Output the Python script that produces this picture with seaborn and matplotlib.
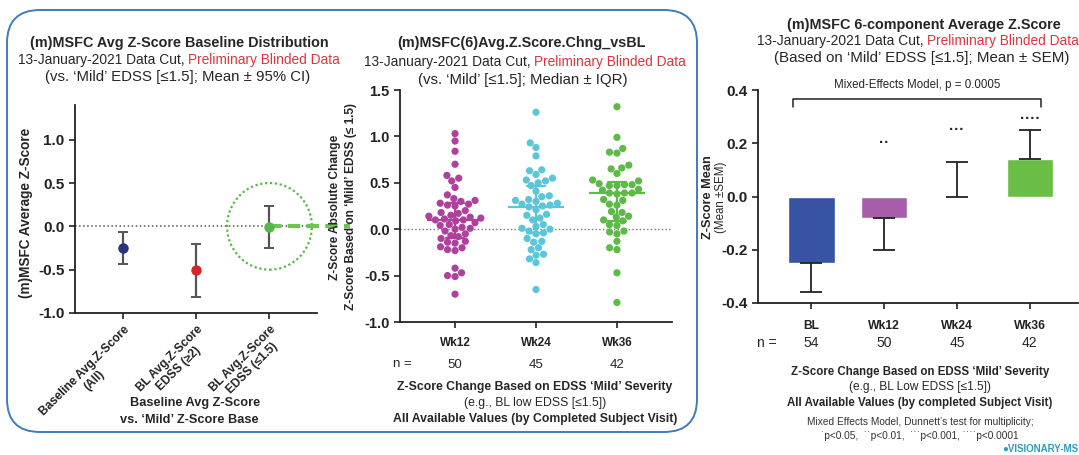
"""
(m)MSFC Z-score summary: baseline distribution, change vs BL, and mixed-model means.
"""
import numpy as np
import pandas as pd
import matplotlib
matplotlib.use('Agg')
import matplotlib.pyplot as plt
import seaborn as sns
from matplotlib.patches import Ellipse, FancyBboxPatch
from matplotlib.transforms import blended_transform_factory

# ---- panel 1: baseline distribution (mean +/- 95% CI) ----
base_groups = ['Baseline Avg.Z-Score\n(All)', 'BL Avg.Z-Score\nEDSS (≥2)', 'BL Avg.Z-Score\nEDSS (≤1.5)']
base_mean = [-0.25, -0.50, -0.01]
base_ci_low = [-0.44, -0.82, -0.25]
base_ci_high = [-0.07, -0.20, 0.23]
base_colors = ['#27357F', '#D8232A', '#55B947']

# ---- panel 2: individual change vs BL ----
weeks = ['Wk12', 'Wk24', 'Wk36']
wk12 = [1.03, 0.95, 0.84, 0.70, 0.58, 0.55, 0.52, 0.45,
        0.37, 0.33, 0.31, 0.30, 0.28, 0.27, 0.26, 0.25,
        0.20, 0.18, 0.17, 0.15, 0.14, 0.13, 0.12, 0.11, 0.10, 0.10, 0.09, 0.07, 0.05, 0.04, 0.02, 0.01, 0.00,
        -0.02, -0.05, -0.07, -0.08, -0.10, -0.13, -0.14, -0.15, -0.19, -0.20, -0.22, -0.23,
        -0.42, -0.47, -0.50, -0.51, -0.70]
wk24 = [1.26, 0.93, 0.88, 0.79, 0.64, 0.63, 0.59, 0.55, 0.53, 0.52, 0.50, 0.47, 0.41,
        0.36, 0.35, 0.32, 0.31, 0.30, 0.28, 0.27, 0.26, 0.25, 0.24, 0.21, 0.16, 0.15, 0.12, 0.10,
        0.05, 0.03, 0.01, 0.00, -0.02, -0.04, -0.05, -0.10, -0.13, -0.14, -0.20, -0.22,
        -0.27, -0.28, -0.32, -0.36, -0.65]
wk36 = [1.32, 0.99, 0.87, 0.83, 0.82, 0.69, 0.66, 0.65, 0.60, 0.53, 0.52,
        0.48, 0.48, 0.47, 0.47, 0.49, 0.43, 0.42, 0.39, 0.39, 0.38, 0.39,
        0.32, 0.31, 0.27, 0.26, 0.19, 0.18, 0.14, 0.13, 0.10, 0.09, 0.05, 0.04,
        -0.02, -0.03, -0.05, -0.13, -0.20, -0.22, -0.47, -0.79]
week_n = [50, 45, 42]
week_colors = ['#B0409E', '#5CC6D9', '#5DBA46']

# ---- panel 3: mixed-effects means (mean +/- SEM) ----
visits = ['BL', 'Wk12', 'Wk24', 'Wk36']
visit_mean = [-0.25, -0.08, 0.0, 0.14]
visit_sem = [0.11, 0.12, 0.13, 0.11]
visit_n = [54, 50, 45, 42]
visit_stars = ['', '··', '···', '····']
star_y = [0, 0.20, 0.25, 0.29]
visit_colors = ['#3853A4', '#A65DAA', '#BBBBBB', '#6ABD45']

RED = '#D9363E'
W, H = 1079, 455

sns.set_theme(style='ticks')
plt.rcParams['font.family'] = ['Liberation Sans', 'DejaVu Sans']
plt.rcParams['axes.edgecolor'] = '#222222'
plt.rcParams['axes.linewidth'] = 1.3
plt.rcParams['xtick.color'] = '#222222'
plt.rcParams['ytick.color'] = '#222222'

fig = plt.figure(figsize=(W / 100, H / 100), dpi=100)
fig.patch.set_facecolor('white')


def fx(px):
    return px / W


def fy(py):
    return 1 - py / H


def ftext(x, y, s, size, **kw):
    kw.setdefault('ha', 'center')
    kw.setdefault('va', 'center')
    return fig.text(fx(x), fy(y), s, fontsize=size, **kw)


def two_tone(xc, y, first, second, size):
    # black + red line, centred as a whole
    r = fig.canvas.get_renderer()
    t1 = ftext(0, y, first, size, ha='left')
    t2 = ftext(0, y, second, size, ha='left', color=RED)
    w1 = t1.get_window_extent(r).width
    w2 = t2.get_window_extent(r).width
    x0 = xc - (w1 + w2) / 2
    t1.set_x(fx(x0))
    t2.set_x(fx(x0 + w1))


def add_axes_px(x0, x1, ytop, ybot):
    return fig.add_axes([fx(x0), fy(ybot), (x1 - x0) / W, (ybot - ytop) / H])


def style_axis(ax, size):
    sns.despine(ax=ax)
    ax.tick_params(axis='both', length=4, width=1.2, labelsize=size)
    for lab in ax.get_yticklabels() + ax.get_xticklabels():
        lab.set_fontweight('bold')
    ax.set_xlabel('')
    ax.set_ylabel('')


# rounded frame around the first two panels
frame = FancyBboxPatch((0.07, (H - 432) / 100), 6.90, 4.22,
                       boxstyle='round,pad=0,rounding_size=0.33',
                       transform=fig.dpi_scale_trans, fill=False,
                       ec='#3F7CB9', lw=1.4)
fig.patches.append(frame)

# ================= panel 1 =================
ax1 = add_axes_px(75, 317, 105, 313)
ax1.axhline(0, ls=':', color='#555555', lw=1.1, zorder=1)
err_lo = np.array(base_mean) - np.array(base_ci_low)
err_hi = np.array(base_ci_high) - np.array(base_mean)
ax1.errorbar(np.arange(len(base_groups)), base_mean, yerr=[err_lo, err_hi], fmt='none',
             ecolor='#555555', elinewidth=1.6, capsize=3.5, capthick=1.4, zorder=2)
sns.stripplot(x=base_groups, y=base_mean, hue=base_groups, palette=base_colors,
              jitter=False, size=7.5, legend=False, ax=ax1, zorder=4)
ax1.add_patch(Ellipse((2, 0), 1.16, 1.0, fill=False, ec='#55B947', ls=(0, (1, 1.2)), lw=1.6, zorder=3))
ax1.plot([2, 3.1], [0, 0], ls=(0, (3, 1.5)), color='#6CC552', lw=3, clip_on=False, zorder=3)
ax1.set_xlim(-0.66, 2.65)
ax1.set_ylim(-1.0, 1.4)
ax1.set_yticks([-1.0, -0.5, 0.0, 0.5, 1.0])
ax1.set_yticklabels(['-1.0', '-0.5', '0.0', '0.5', '1.0'])
style_axis(ax1, 11)
plt.setp(ax1.get_xticklabels(), rotation=45, ha='right', va='top', rotation_mode='anchor',
         fontsize=8.6, multialignment='center')
ftext(26, 213, '(m)MSFC Average Z-Score', 9.8, rotation=90, fontweight='bold')
ftext(195, 403, 'Baseline Avg Z-Score', 9.2, fontweight='bold')
ftext(189, 420, 'vs. ‘Mild’ Z-Score Base', 9.2, fontweight='bold')

ftext(179, 43, '(m)MSFC Avg Z-Score Baseline Distribution', 10.4, fontweight='bold')
two_tone(179, 60, '13-January-2021 Data Cut, ', 'Preliminary Blinded Data', 9.9)
ftext(178, 77, '(vs. ‘Mild’ EDSS [≤1.5]; Mean ± 95% CI)', 10.8)

# ================= panel 2 =================
df_chg = pd.DataFrame({
    'visit': ['Wk12'] * len(wk12) + ['Wk24'] * len(wk24) + ['Wk36'] * len(wk36),
    'value': wk12 + wk24 + wk36,
})
ax2 = add_axes_px(400, 672, 90, 322)
ax2.axhline(0, ls=':', color='#777777', lw=1.0, zorder=1)
sns.swarmplot(data=df_chg, x='visit', y='value', order=weeks, hue='visit', hue_order=weeks,
              palette=week_colors, size=5.2, legend=False, ax=ax2, zorder=2)
sns.pointplot(data=df_chg, x='visit', y='value', order=weeks, hue='visit', hue_order=weeks,
              palette=week_colors, estimator='median', errorbar=('pi', 50),
              markers='_', markersize=40, markeredgewidth=1.6, linestyle='none',
              capsize=0.22, err_kws={'linewidth': 1.6}, legend=False, ax=ax2)
ax2.set_xlim(-0.68, 2.68)
ax2.set_ylim(-1.0, 1.5)
ax2.set_yticks([-1.0, -0.5, 0.0, 0.5, 1.0, 1.5])
ax2.set_yticklabels(['-1.0', '-0.5', '0.0', '0.5', '1.0', '1.5'])
style_axis(ax2, 10.5)
ax2.tick_params(axis='x', labelsize=8.5, pad=7)
tr2 = blended_transform_factory(ax2.transData, fig.transFigure)
for i, n in enumerate(week_n):
    ax2.text(i, fy(365), str(n), transform=tr2, ha='center', va='center', fontsize=9.5)
ftext(402, 364, 'n =', 9.5)
ftext(343, 207, 'Z-Score Absolute Change\nZ-Score Based on ‘Mild’ EDSS (≤ 1.5)', 8.6,
      rotation=90, fontweight='bold', multialignment='center', linespacing=1.45)
ftext(535, 387, 'Z-Score Change Based on EDSS ‘Mild’ Severity', 8.8, fontweight='bold')
ftext(535, 403, '(e.g., BL low EDSS [≤1.5])', 8.8)
ftext(535, 419, 'All Available Values (by Completed Subject Visit)', 8.8, fontweight='bold')

ftext(521, 43, '(m)MSFC(6)Avg.Z.Score.Chng_vsBL', 10.4, fontweight='bold')
two_tone(525, 62, '13-January-2021 Data Cut, ', 'Preliminary Blinded Data', 9.9)
ftext(523, 80, '(vs. ‘Mild’ [≤1.5]; Median ± IQR)', 10.8)

# ================= panel 3 =================
ax3 = add_axes_px(758, 1078, 90, 303)
sns.barplot(x=visits, y=visit_mean, hue=visits, palette=visit_colors, width=0.64,
            saturation=1, legend=False, ax=ax3, zorder=2)
mean_arr = np.array(visit_mean)
sem_arr = np.array(visit_sem)
lower = np.where(mean_arr < 0, sem_arr, 0)
upper = np.where(mean_arr >= 0, sem_arr, 0)
ax3.errorbar(np.arange(len(visits)), visit_mean, yerr=[lower, upper], fmt='none',
             ecolor='#222222', elinewidth=1.3, capsize=8, capthick=1.3, zorder=3)
for i, s in enumerate(visit_stars):
    if s:
        ax3.text(i, star_y[i], s, ha='center', va='center', fontsize=11, fontweight='bold')
ax3.plot([-0.25, -0.25, 3.15, 3.15], [0.335, 0.365, 0.365, 0.335], color='#222222', lw=1.1,
         clip_on=False)
ax3.text(1.45, 0.42, 'Mixed-Effects Model, p = 0.0005', ha='center', va='center', fontsize=8.3)
ax3.set_xlim(-0.73, 3.66)
ax3.set_ylim(-0.4, 0.4)
ax3.set_yticks([-0.4, -0.2, 0.0, 0.2, 0.4])
ax3.set_yticklabels(['-0.4', '-0.2', '0.0', '0.2', '0.4'])
style_axis(ax3, 11)
ax3.tick_params(axis='x', labelsize=8.7, pad=8)
tr3 = blended_transform_factory(ax3.transData, fig.transFigure)
for i, n in enumerate(visit_n):
    ax3.text(i, fy(343), str(n), transform=tr3, ha='center', va='center', fontsize=10)
ftext(767, 343, 'n =', 10)
ftext(708, 197, 'Z-Score Mean', 9.2, rotation=90, fontweight='bold')
ftext(721, 197, '(Mean ±SEM)', 8.3, rotation=90)

ftext(924, 25, '(m)MSFC 6-component Average Z.Score', 10.4, fontweight='bold')
two_tone(918, 41, '13-January-2021 Data Cut, ', 'Preliminary Blinded Data', 9.9)
ftext(922, 58, '(Based on ‘Mild’ EDSS [≤1.5]; Mean ± SEM)', 10.9)

ftext(920, 372, 'Z-Score Change Based on EDSS ‘Mild’ Severity', 8.3, fontweight='bold')
ftext(920, 387, '(e.g., BL Low EDSS [≤1.5])', 8.6)
ftext(920, 403, 'All Available Values (by completed Subject Visit)', 8.3, fontweight='bold')
ftext(920, 422, 'Mixed Effects Model, Dunnett’s test for multiplicity;', 7.3, color='#333333')
ftext(920, 436, '˙p<0.05,  ˙˙p<0.01,  ˙˙˙p<0.001, ˙˙˙˙p<0.0001', 7.3, color='#333333')
ftext(1078, 449, '●VISIONARY-MS', 7, ha='right', fontweight='bold', color='#2E9CB8')

fig.savefig('out.png', dpi=100)
